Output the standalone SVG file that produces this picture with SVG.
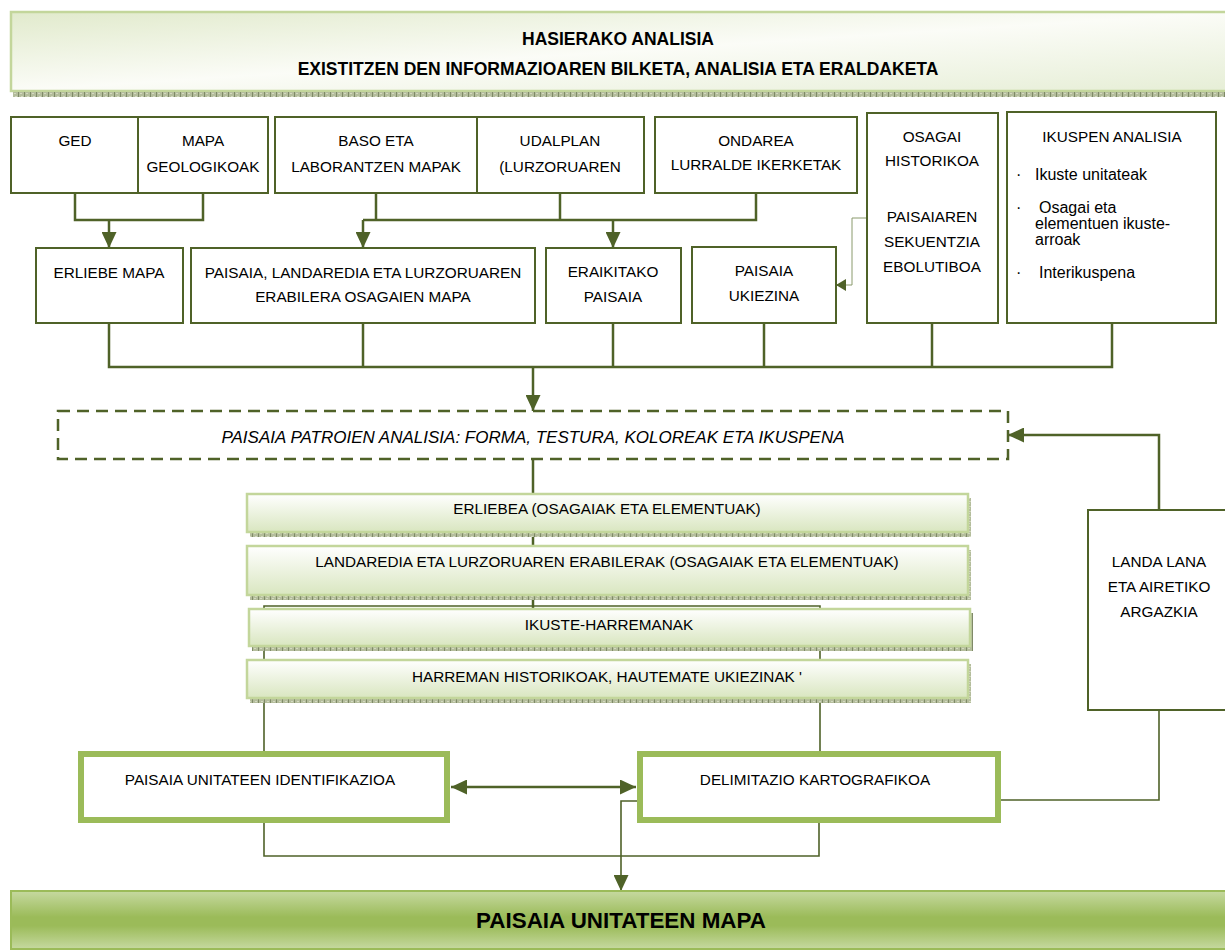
<svg xmlns="http://www.w3.org/2000/svg" width="1225" height="952" viewBox="0 0 1225 952">
<style>
.box{fill:#fff;stroke:#4f6228;stroke-width:2}
.t{font-family:"Liberation Sans",Arial,sans-serif;font-size:15.3px;fill:#000;text-anchor:middle}
.s{font-family:"Liberation Sans",Arial,sans-serif;font-size:16px;fill:#000}
.hb{font-family:"Liberation Sans",Arial,sans-serif;font-size:17.5px;font-weight:bold;fill:#000;text-anchor:middle}
.c{fill:none;stroke:#4f6228;stroke-width:2.5}
.c2{fill:none;stroke:#4f6228;stroke-width:1.6}
.thin{fill:none;stroke:#8a9a6c;stroke-width:1}
.stk{fill:url(#gStack);stroke:#c3d69b;stroke-width:2.5}
.thick{fill:#fff;stroke:#9bbb59;stroke-width:6}
.hatch{fill:url(#pHatch)}
</style>
<defs>
<linearGradient id="gHead" x1="0" y1="0" x2="1" y2="1">
<stop offset="0" stop-color="#e1eacc"/>
<stop offset="0.5" stop-color="#fbfcf7"/>
<stop offset="1" stop-color="#e6eed6"/>
</linearGradient>
<linearGradient id="gStack" x1="0" y1="0" x2="0" y2="1">
<stop offset="0" stop-color="#ffffff"/>
<stop offset="1" stop-color="#d9e6c0"/>
</linearGradient>
<linearGradient id="gMap" x1="0" y1="0" x2="0" y2="1">
<stop offset="0" stop-color="#c6d9a0"/>
<stop offset="0.45" stop-color="#9bbb59"/>
<stop offset="0.6" stop-color="#9bbb59"/>
<stop offset="1" stop-color="#c6d9a0"/>
</linearGradient>
<pattern id="pHatch" width="6" height="5" patternUnits="userSpaceOnUse">
<rect width="6" height="5" fill="#b4bd9c"/>
<rect x="0" y="0" width="1" height="5" fill="#7f8a68"/>
<rect x="3" y="1" width="2" height="1" fill="#d3d9c0"/>
<rect x="2" y="3" width="2" height="1" fill="#d3d9c0"/>
</pattern>
<marker id="arr" viewBox="0 0 16 15" refX="16" refY="7.5" markerWidth="16" markerHeight="15" markerUnits="userSpaceOnUse" orient="auto">
<path d="M0,0 L16,7.5 L0,15 z" fill="#4f6228"/>
</marker>
<marker id="arrS" viewBox="0 0 16 15" refX="0" refY="7.5" markerWidth="16" markerHeight="15" markerUnits="userSpaceOnUse" orient="auto">
<path d="M16,0 L0,7.5 L16,15 z" fill="#4f6228"/>
</marker>
<marker id="arrSm" viewBox="0 0 10 12" refX="10" refY="6" markerWidth="10" markerHeight="12" markerUnits="userSpaceOnUse" orient="auto">
<path d="M0,0 L10,6 L0,12 z" fill="#4f6228"/>
</marker>
</defs>

<g id="connectors">
<path class="c" d="M75,193 V220 H203 V193"/>
<path class="c" d="M109,220 V248" marker-end="url(#arr)"/>
<path class="c" d="M376,193 V220"/>
<path class="c" d="M560,193 V220"/>
<path class="c" d="M756,193 V220 H363"/>
<path class="c" d="M363,220 V248" marker-end="url(#arr)"/>
<path class="c" d="M613,220 V248" marker-end="url(#arr)"/>
<path class="thin" d="M867,218 H852 V285 H844"/>
<path class="c2" d="M846,285 H836" marker-end="url(#arrSm)"/>
<path class="c" d="M109,323 V367 H1112 V323"/>
<path class="c" d="M363,323 V367"/>
<path class="c" d="M613,323 V367"/>
<path class="c" d="M764,323 V367"/>
<path class="c" d="M932,323 V367"/>
<path class="c" d="M533,367 V411" marker-end="url(#arr)"/>
<path class="c" d="M533,459 V609"/>
<path class="c2" d="M264,751 V606 H820 V751"/>
<path class="c" d="M1159,510 V435 H1008" marker-end="url(#arr)"/>
<path class="c" d="M451,787 H636" marker-start="url(#arrS)" marker-end="url(#arr)"/>
<path class="c2" d="M1159,710 V800 H1001"/>
<path class="c2" d="M264,823 V856 H819 V823"/>
<path class="c2" d="M637,801 H621 V891" marker-end="url(#arr)"/>
</g>

<g id="header">
<rect x="11" y="12" width="1216" height="79" fill="url(#gHead)" stroke="#c3d69b" stroke-width="2.5"/>
<rect class="hatch" x="13" y="92" width="1212" height="5"/>
<text class="hb" x="618" y="45">HASIERAKO ANALISIA</text>
<text class="hb" x="618" y="75">EXISTITZEN DEN INFORMAZIOAREN BILKETA, ANALISIA ETA ERALDAKETA</text>
</g>

<g id="ged"><rect class="box" x="11" y="117" width="127" height="76"/><text class="t" x="75" y="146">GED</text></g>
<g id="mapa-geologikoak"><rect class="box" x="138" y="117" width="130" height="76"/><text class="t" x="203" y="146">MAPA</text><text class="t" x="203" y="172">GEOLOGIKOAK</text></g>
<g id="baso"><rect class="box" x="275" y="117" width="202" height="76"/><text class="t" x="376" y="146">BASO ETA</text><text class="t" x="376" y="172">LABORANTZEN MAPAK</text></g>
<g id="udalplan"><rect class="box" x="477" y="117" width="167" height="76"/><text class="t" x="560" y="146">UDALPLAN</text><text class="t" x="560" y="172">(LURZORUAREN</text></g>
<g id="ondarea"><rect class="box" x="655" y="117" width="202" height="76"/><text class="t" x="756" y="146">ONDAREA</text><text class="t" x="756" y="170">LURRALDE IKERKETAK</text></g>
<g id="osagai"><rect class="box" x="867" y="113" width="131" height="210"/>
<text class="t" x="932" y="142">OSAGAI</text><text class="t" x="932" y="166">HISTORIKOA</text>
<text class="t" x="932" y="222">PAISAIAREN</text><text class="t" x="932" y="247">SEKUENTZIA</text><text class="t" x="932" y="272">EBOLUTIBOA</text></g>
<g id="ikuspen"><rect class="box" x="1007" y="112" width="209" height="211"/>
<text class="t" x="1112" y="142">IKUSPEN ANALISIA</text>
<text class="s" x="1016" y="180">·</text><text class="s" x="1035" y="180">Ikuste unitateak</text>
<text class="s" x="1016" y="213">·</text><text class="s" x="1039" y="213">Osagai eta</text>
<text class="s" x="1035" y="229">elementuen ikuste-</text>
<text class="s" x="1035" y="245">arroak</text>
<text class="s" x="1016" y="278">·</text><text class="s" x="1039" y="278">Interikuspena</text></g>

<g id="erliebe-mapa"><rect class="box" x="36" y="248" width="147" height="75"/><text class="t" x="109" y="278">ERLIEBE MAPA</text></g>
<g id="paisaia-landaredia"><rect class="box" x="191" y="248" width="344" height="75"/><text class="t" x="363" y="278">PAISAIA, LANDAREDIA ETA LURZORUAREN</text><text class="t" x="363" y="302">ERABILERA OSAGAIEN MAPA</text></g>
<g id="eraikitako"><rect class="box" x="546" y="248" width="135" height="75"/><text class="t" x="613" y="277">ERAIKITAKO</text><text class="t" x="613" y="302">PAISAIA</text></g>
<g id="ukiezina"><rect class="box" x="692" y="247" width="144" height="76"/><text class="t" x="764" y="276">PAISAIA</text><text class="t" x="764" y="301">UKIEZINA</text></g>

<g id="patroiak"><rect x="58" y="411" width="950" height="48" fill="#fff" stroke="#4f6228" stroke-width="2.5" stroke-dasharray="12,7"/>
<text x="533" y="443" font-family="Liberation Sans, Arial, sans-serif" font-size="17px" font-style="italic" text-anchor="middle">PAISAIA PATROIEN ANALISIA: FORMA, TESTURA, KOLOREAK ETA IKUSPENA</text></g>

<g id="erliebea"><rect class="hatch" x="250" y="532" width="721" height="5"/><rect class="hatch" x="968" y="498" width="3" height="39"/>
<rect class="stk" x="247" y="494" width="721" height="38"/><text class="t" x="607" y="514">ERLIEBEA (OSAGAIAK ETA ELEMENTUAK)</text></g>
<g id="landaredia"><rect class="hatch" x="250" y="595" width="721" height="5"/><rect class="hatch" x="968" y="550" width="3" height="50"/>
<rect class="stk" x="247" y="546" width="721" height="49"/><text class="t" x="607" y="567">LANDAREDIA ETA LURZORUAREN ERABILERAK (OSAGAIAK ETA ELEMENTUAK)</text></g>
<g id="ikuste-harremanak"><rect class="hatch" x="252" y="646" width="721" height="5"/><rect class="hatch" x="970" y="613" width="3" height="38"/>
<rect class="stk" x="249" y="609" width="721" height="37"/><text class="t" x="609" y="630">IKUSTE-HARREMANAK</text></g>
<g id="harreman-historikoak"><rect class="hatch" x="250" y="698" width="721" height="5"/><rect class="hatch" x="968" y="664" width="3" height="39"/>
<rect class="stk" x="247" y="660" width="721" height="38"/><text class="t" x="607" y="682">HARREMAN HISTORIKOAK, HAUTEMATE UKIEZINAK '</text></g>

<g id="landa-lana"><rect class="box" x="1088" y="510" width="140" height="200"/>
<text class="t" x="1159" y="567">LANDA LANA</text><text class="t" x="1159" y="592">ETA AIRETIKO</text><text class="t" x="1159" y="617">ARGAZKIA</text></g>

<g id="identifikazioa"><rect class="thick" x="81" y="754" width="366" height="66"/><text class="t" x="260" y="785">PAISAIA UNITATEEN IDENTIFIKAZIOA</text></g>
<g id="delimitazio"><rect class="thick" x="640" y="754" width="358" height="66"/><text class="t" x="815" y="785">DELIMITAZIO KARTOGRAFIKOA</text></g>

<g id="mapa-final"><rect x="11" y="891" width="1216" height="58" fill="url(#gMap)" stroke="#9bbb59" stroke-width="2"/>
<text x="621" y="928" font-family="Liberation Sans, Arial, sans-serif" font-size="22.4px" font-weight="bold" text-anchor="middle">PAISAIA UNITATEEN MAPA</text></g>
</svg>
